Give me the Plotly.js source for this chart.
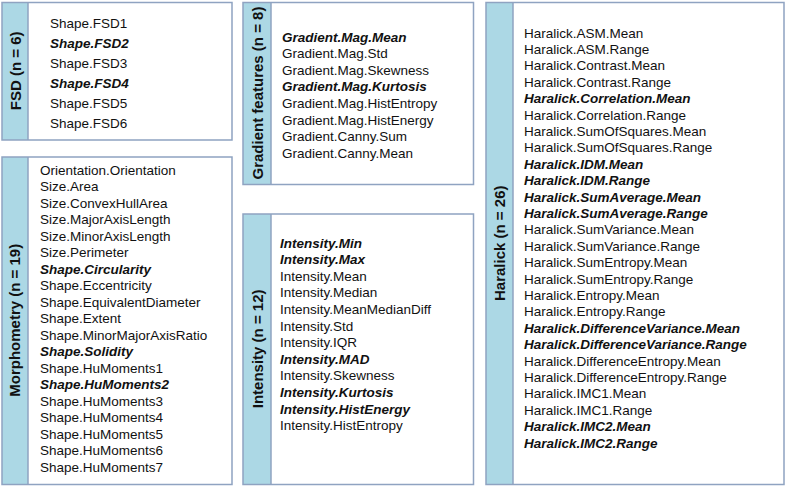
<!DOCTYPE html>
<html><head><meta charset="utf-8">
<script src="https://cdn.plot.ly/plotly-3.0.1.min.js"></script>
<style>html,body{margin:0;padding:0;background:#fff}#chart{width:787px;height:489px}</style>
</head><body><div id="chart"></div>
<script>
// ---- data ----
const fsdFeatures = ["Shape.FSD1","Shape.FSD2","Shape.FSD3","Shape.FSD4","Shape.FSD5","Shape.FSD6"];
const fsdSelected = ["Shape.FSD2","Shape.FSD4"];

const morphFeatures = ["Orientation.Orientation","Size.Area","Size.ConvexHullArea","Size.MajorAxisLength",
  "Size.MinorAxisLength","Size.Perimeter","Shape.Circularity","Shape.Eccentricity","Shape.EquivalentDiameter",
  "Shape.Extent","Shape.MinorMajorAxisRatio","Shape.Solidity","Shape.HuMoments1","Shape.HuMoments2",
  "Shape.HuMoments3","Shape.HuMoments4","Shape.HuMoments5","Shape.HuMoments6","Shape.HuMoments7"];
const morphSelected = ["Shape.Circularity","Shape.Solidity","Shape.HuMoments2"];

const gradFeatures = ["Gradient.Mag.Mean","Gradient.Mag.Std","Gradient.Mag.Skewness","Gradient.Mag.Kurtosis",
  "Gradient.Mag.HistEntropy","Gradient.Mag.HistEnergy","Gradient.Canny.Sum","Gradient.Canny.Mean"];
const gradSelected = ["Gradient.Mag.Mean","Gradient.Mag.Kurtosis"];

const intFeatures = ["Intensity.Min","Intensity.Max","Intensity.Mean","Intensity.Median","Intensity.MeanMedianDiff",
  "Intensity.Std","Intensity.IQR","Intensity.MAD","Intensity.Skewness","Intensity.Kurtosis",
  "Intensity.HistEnergy","Intensity.HistEntropy"];
const intSelected = ["Intensity.Min","Intensity.Max","Intensity.MAD","Intensity.Kurtosis","Intensity.HistEnergy"];

const harFeatures = ["Haralick.ASM.Mean","Haralick.ASM.Range","Haralick.Contrast.Mean","Haralick.Contrast.Range",
  "Haralick.Correlation.Mean","Haralick.Correlation.Range","Haralick.SumOfSquares.Mean","Haralick.SumOfSquares.Range",
  "Haralick.IDM.Mean","Haralick.IDM.Range","Haralick.SumAverage.Mean","Haralick.SumAverage.Range",
  "Haralick.SumVariance.Mean","Haralick.SumVariance.Range","Haralick.SumEntropy.Mean","Haralick.SumEntropy.Range",
  "Haralick.Entropy.Mean","Haralick.Entropy.Range","Haralick.DifferenceVariance.Mean","Haralick.DifferenceVariance.Range",
  "Haralick.DifferenceEntropy.Mean","Haralick.DifferenceEntropy.Range","Haralick.IMC1.Mean","Haralick.IMC1.Range",
  "Haralick.IMC2.Mean","Haralick.IMC2.Range"];
const harSelected = ["Haralick.Correlation.Mean","Haralick.IDM.Mean","Haralick.IDM.Range","Haralick.SumAverage.Mean",
  "Haralick.SumAverage.Range","Haralick.DifferenceVariance.Mean","Haralick.DifferenceVariance.Range",
  "Haralick.IMC2.Mean","Haralick.IMC2.Range"];

const groupNames = ["FSD","Morphometry","Gradient features","Intensity","Haralick"];

// ---- layout (pixel geometry) ----
const panels = [
  {name:groupNames[0], feats:fsdFeatures, sel:fsdSelected, x0:2, x1:232, y0:2.5, y1:140, sw:26, tx:47.5, ty:23, dy:20},
  {name:groupNames[1], feats:morphFeatures, sel:morphSelected, x0:2, x1:232, y0:157, y1:484.5, sw:26, tx:37.5, ty:170, dy:16.5},
  {name:groupNames[2], feats:gradFeatures, sel:gradSelected, x0:243, x1:473.5, y0:2.5, y1:184.5, sw:28, tx:279.5, ty:37, dy:16.6},
  {name:groupNames[3], feats:intFeatures, sel:intSelected, x0:243, x1:473.5, y0:214, y1:484.5, sw:28, tx:277.5, ty:243, dy:16.6},
  {name:groupNames[4], feats:harFeatures, sel:harSelected, x0:486, x1:784, y0:2.5, y1:484.5, sw:27, tx:521.5, ty:33, dy:16.4}
];

const border = '#8fa3c1', stripFill = '#acd8e5';
const shapes = [], annotations = [];
panels.forEach(p => {
  shapes.push({type:'rect', xref:'x', yref:'y', x0:p.x0, x1:p.x0+p.sw, y0:p.y0, y1:p.y1,
    fillcolor:stripFill, line:{width:0}, layer:'below'});
  shapes.push({type:'rect', xref:'x', yref:'y', x0:p.x0, x1:p.x1, y0:p.y0, y1:p.y1,
    fillcolor:'rgba(0,0,0,0)', line:{color:border, width:1.5}});
  shapes.push({type:'line', xref:'x', yref:'y', x0:p.x0+p.sw, x1:p.x0+p.sw, y0:p.y0, y1:p.y1,
    line:{color:border, width:1.5}});
  annotations.push({x:p.x0+p.sw/2, y:(p.y0+p.y1)/2, xref:'x', yref:'y', showarrow:false,
    text:'<b>'+p.name+' (n = '+p.feats.length+')</b>', textangle:-90,
    font:{family:'Liberation Sans, Arial, sans-serif', size:15, color:'#111'}});
  p.feats.forEach((f,i) => {
    const isSel = p.sel.indexOf(f) >= 0;
    annotations.push({x:p.tx, y:p.ty + i*p.dy, xref:'x', yref:'y', showarrow:false,
      xanchor:'left', yanchor:'middle', text: isSel ? '<b><i>'+f+'</i></b>' : f,
      font:{family:'Liberation Sans, Arial, sans-serif', size:13.5, color:'#111'}});
  });
});

const layout = {
  width:787, height:489, margin:{l:0,r:0,t:0,b:0},
  paper_bgcolor:'#fff', plot_bgcolor:'#fff', showlegend:false,
  xaxis:{range:[0,787], visible:false, fixedrange:true},
  yaxis:{range:[489,0], visible:false, fixedrange:true},
  shapes:shapes, annotations:annotations
};
Plotly.newPlot('chart', [{x:[0],y:[0],mode:'markers',marker:{opacity:0},hoverinfo:'skip'}], layout, {staticPlot:true});
</script></body></html>
